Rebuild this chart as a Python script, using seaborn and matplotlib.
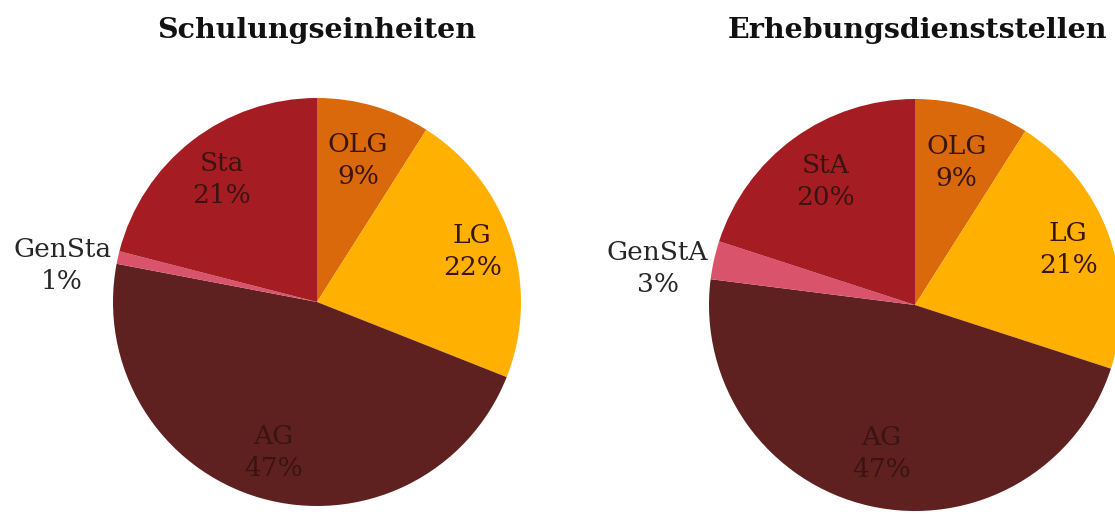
import numpy as np
import matplotlib
matplotlib.use("Agg")
import matplotlib.pyplot as plt
import seaborn as sns

# data
titles = ["Schulungseinheiten", "Erhebungsdienststellen"]
labels_left = ["OLG", "LG", "AG", "GenSta", "Sta"]
values_left = [9, 22, 47, 1, 21]
labels_right = ["OLG", "LG", "AG", "GenStA", "StA"]
values_right = [9, 21, 47, 3, 20]
colors = ["#D9690A", "#FFB000", "#5F2020", "#D9536B", "#A51D22"]

sns.set_theme(style="white")
plt.rcParams['font.family'] = ['DejaVu Serif']

fig = plt.figure(figsize=(11.15, 5.14), dpi=100)
W, H = 1115, 514

def pie_axes(cx, cy, r):
    return fig.add_axes([(cx - r) / W, (H - cy - r) / H, 2 * r / W, 2 * r / H])

ax1 = pie_axes(317, 302, 204)
ax2 = pie_axes(915, 305, 206)

# label distance from centre (fraction of radius)
dists_left = [0.72, 0.80, 0.77, 1.28, 0.76]
dists_right = [0.72, 0.79, 0.74, 1.28, 0.74]

text_col = "#3A1412"

for ax, labels, values, dists in [(ax1, labels_left, values_left, dists_left),
                                  (ax2, labels_right, values_right, dists_right)]:
    wedges, _ = ax.pie(values, colors=colors, startangle=90, counterclock=False,
                       radius=1, wedgeprops=dict(linewidth=0))
    ax.set_xlim(-1, 1)
    ax.set_ylim(-1, 1)
    ax.set_aspect("equal")
    ax.axis("off")
    for w, lab, v, d in zip(wedges, labels, values, dists):
        ang = np.deg2rad((w.theta1 + w.theta2) / 2)
        outside = d > 1
        ax.annotate(f"{lab}\n{v}%", (d * np.cos(ang), d * np.sin(ang)),
                    xytext=(0, -15 if outside else 0), textcoords="offset points",
                    ha="center", va="center", fontsize=19,
                    color="#262626" if outside else text_col,
                    linespacing=1.35, annotation_clip=False)

fig.text(317 / W, 1 - 30 / H, titles[0], ha="center", va="center",
         fontsize=20.5, fontweight="bold", color="#111111")
fig.text(917 / W, 1 - 30 / H, titles[1], ha="center", va="center",
         fontsize=20.5, fontweight="bold", color="#111111")

fig.savefig("out.png", dpi=100, facecolor="white")
